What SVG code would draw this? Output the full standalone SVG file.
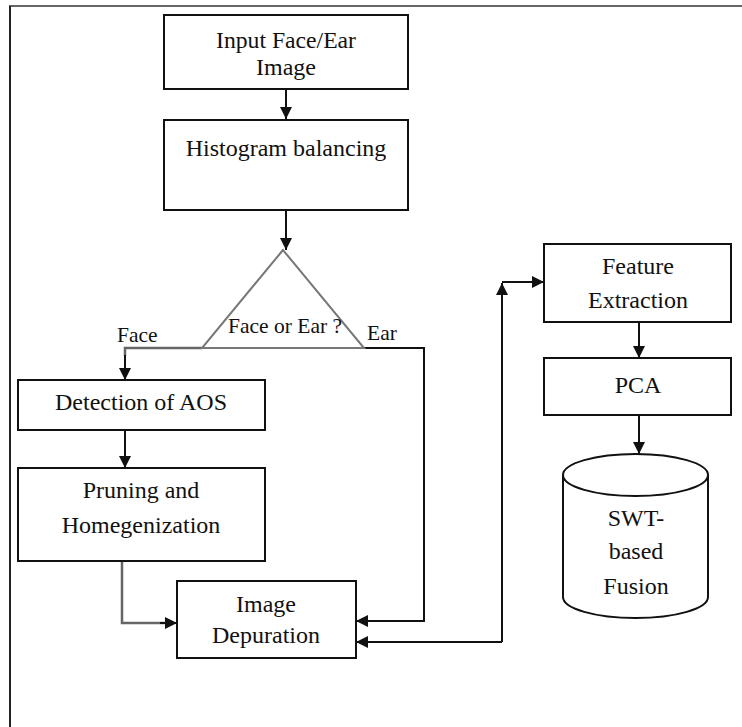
<svg xmlns="http://www.w3.org/2000/svg" width="742" height="727" viewBox="0 0 742 727">
<style>
.box{fill:#fff;stroke:#111;stroke-width:2}
text{font-family:'Liberation Serif','DejaVu Serif',serif;fill:#111}
.t{font-size:24px;text-anchor:middle}
.s{font-size:21.5px}
.c{fill:none;stroke:#111;stroke-width:2}
.g{fill:none;stroke:#666;stroke-width:2.5}
</style>
<defs>
<marker id="ah" viewBox="0 0 12 12" refX="12" refY="6" markerWidth="12" markerHeight="12" markerUnits="userSpaceOnUse" orient="auto">
<path d="M0,0 L12,6 L0,12 Z" fill="#111"/>
</marker>
</defs>
<rect width="742" height="727" fill="#fff"/>
<g id="frame">
<line x1="9" y1="6" x2="742" y2="6" stroke="#666" stroke-width="2"/>
<line x1="10" y1="6" x2="10" y2="727" stroke="#222" stroke-width="2"/>
</g>
<g id="connectors">
<line class="c" x1="286" y1="89" x2="286" y2="119" marker-end="url(#ah)"/>
<line class="c" x1="286" y1="210" x2="286" y2="250" marker-end="url(#ah)"/>
<polyline class="g" points="202,348 125,348 125,356"/>
<line class="c" x1="125" y1="355" x2="125" y2="380" marker-end="url(#ah)"/>
<polyline class="c" points="364,348 424,348 424,621 356,621" marker-end="url(#ah)"/>
<line class="c" x1="125" y1="430" x2="125" y2="468" marker-end="url(#ah)"/>
<polyline class="g" points="122,561 122,623 165,623"/>
<line class="c" x1="160" y1="623" x2="177" y2="623" marker-end="url(#ah)"/>
<polyline class="c" points="502,642 502,283" marker-end="url(#ah)"/>
<line class="c" x1="502" y1="642" x2="356" y2="642" marker-end="url(#ah)"/>
<line class="c" x1="502" y1="282" x2="544" y2="282" marker-end="url(#ah)"/>
<line class="c" x1="639" y1="322" x2="639" y2="358" marker-end="url(#ah)"/>
<line class="c" x1="639" y1="415" x2="639" y2="454" marker-end="url(#ah)"/>
</g>
<g id="input">
<rect class="box" x="164" y="15" width="244" height="74"/>
<text class="t" x="286" y="48" textLength="140" lengthAdjust="spacingAndGlyphs">Input Face/Ear</text>
<text class="t" x="286" y="75">Image</text>
</g>
<g id="histogram">
<rect class="box" x="164" y="120" width="244" height="90"/>
<text class="t" x="286" y="156">Histogram balancing</text>
</g>
<g id="decision">
<polygon points="283,250 202,348 364,348" fill="#fff" stroke="#777" stroke-width="2"/>
<text class="s" x="285" y="333" text-anchor="middle">Face or Ear ?</text>
</g>
<g id="labels">
<text class="s" x="117" y="342">Face</text>
<text class="s" x="367" y="340">Ear</text>
</g>
<g id="aos">
<rect class="box" x="18" y="380" width="247" height="50"/>
<text class="t" x="141" y="410">Detection of AOS</text>
</g>
<g id="pruning">
<rect class="box" x="18" y="468" width="247" height="93"/>
<text class="t" x="141" y="498">Pruning and</text>
<text class="t" x="141" y="533">Homegenization</text>
</g>
<g id="depuration">
<rect class="box" x="177" y="581" width="179" height="77"/>
<text class="t" x="266" y="612">Image</text>
<text class="t" x="266" y="643">Depuration</text>
</g>
<g id="feature">
<rect class="box" x="544" y="244" width="187" height="78"/>
<text class="t" x="638" y="274">Feature</text>
<text class="t" x="638" y="308">Extraction</text>
</g>
<g id="pca">
<rect class="box" x="544" y="358" width="187" height="57"/>
<text class="t" x="638" y="393">PCA</text>
</g>
<g id="fusion">
<path d="M563,475 L563,597 A72.5,21 0 0 0 708,597 L708,475" fill="#fff" stroke="#111" stroke-width="2"/>
<ellipse cx="635.5" cy="475" rx="72.5" ry="21" fill="#fff" stroke="#111" stroke-width="2"/>
<text class="t" x="636" y="526">SWT-</text>
<text class="t" x="636" y="559">based</text>
<text class="t" x="636" y="594">Fusion</text>
</g>
</svg>
